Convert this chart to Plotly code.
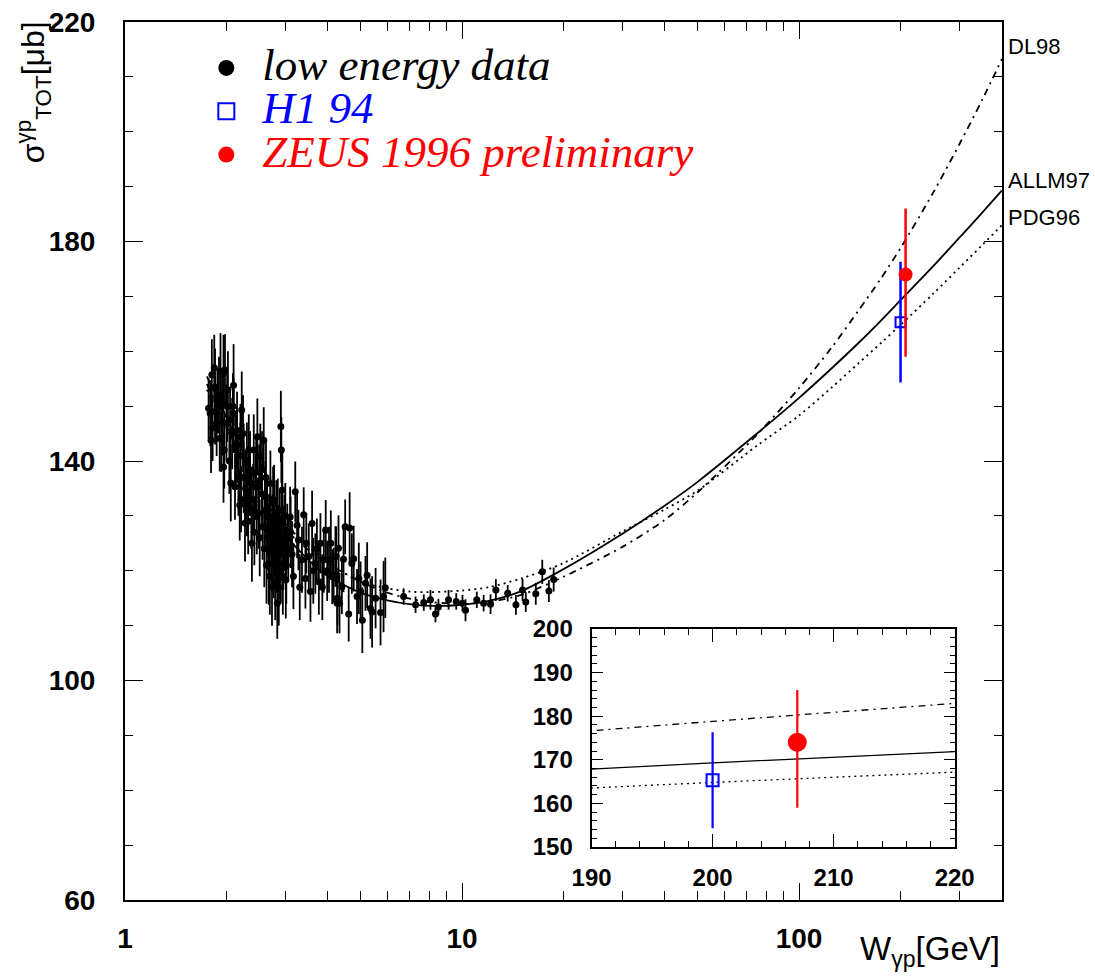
import math
import plotly.graph_objects as go

# ---------------- data ----------------
# low energy photoproduction data: W [GeV], sigma [mub], error [mub]
w_low = [1.77, 1.79, 1.81, 1.80, 1.85, 1.87, 1.92, 1.94, 1.96, 1.98, 1.91, 1.96, 2.00, 2.05,
         2.10, 2.12, 2.10, 2.15, 2.20, 2.19, 2.22, 2.25, 2.27, 2.30, 2.33, 2.35, 2.38, 2.41,
         2.44, 2.47, 2.49, 2.52, 2.55, 2.58, 2.61, 2.64, 2.67, 2.70, 2.74, 2.77, 2.80, 2.83,
         2.84, 2.87, 2.90, 2.91, 2.93, 2.97, 3.00, 3.03, 3.09, 3.20, 3.24, 3.27, 3.35, 3.39,
         3.43, 3.51, 3.55, 3.59, 3.67, 3.76, 3.80, 3.89, 3.94, 4.03, 4.12, 4.21, 4.26,
         2.55, 2.60, 2.62, 2.68, 2.70, 2.72, 2.75, 2.78, 2.81, 2.82, 2.85, 2.88, 2.90, 2.92,
         2.95, 2.97, 3.01, 3.05, 3.10, 2.45, 2.50, 2.40, 2.35, 2.30, 2.25, 2.20, 2.15, 2.08,
         2.04, 2.01, 1.95, 1.90, 1.85,
         1.82, 1.84, 1.88, 1.93, 1.97, 2.02, 2.06, 2.09, 2.13, 2.17, 2.21, 2.24, 2.28, 2.32,
         2.37, 2.42, 2.46, 2.51, 2.56, 2.59, 2.63, 2.66, 2.69, 2.73, 2.76, 2.79, 2.86, 2.89,
         2.94, 2.99, 3.13, 3.16, 3.30, 3.45, 3.62, 3.71, 3.85, 3.98, 4.08,
         4.16, 4.23, 4.27, 4.30, 4.33, 4.40, 4.45, 4.50, 4.61, 4.64, 4.71, 4.77, 4.88, 4.94,
         5.00, 5.06, 5.17, 5.23, 5.35, 5.41, 5.54, 5.73, 5.85, 5.92,
         6.71, 7.28, 7.70, 8.06, 8.34, 8.51, 9.12, 9.61, 10.03, 10.24, 11.06, 11.59, 12.15,
         12.60, 13.66, 14.45, 15.12, 15.46, 16.55, 17.30, 18.10, 18.70]
s_low = [149.6, 148.7, 155.7, 143.8, 153.5, 146.9, 156.3, 150.5, 156.0, 156.6, 144.1, 138.9, 146.9, 147.5,
         153.8, 135.3, 148.7, 145.6, 144.4, 132.0, 149.3, 140.8, 128.7, 132.3, 142.0, 138.4, 125.0, 142.0,
         135.3, 144.4, 130.5, 140.8, 138.4, 143.8, 133.5, 129.8, 121.3, 135.9, 127.4, 132.3, 124.4, 114.1,
         129.8, 121.3, 146.3, 142.0, 134.7, 127.4, 118.3, 126.2, 129.8, 134.4, 128.3, 125.6, 122.0, 130.2,
         118.6, 122.6, 116.2, 128.6, 121.3, 118.0, 125.0, 122.0, 127.4, 122.0, 118.9, 122.6, 114.1,
         134.0, 131.0, 137.0, 128.0, 130.0, 124.0, 133.0, 126.0, 130.0, 122.0, 125.0, 128.0, 120.0, 131.0,
         123.0, 126.0, 121.0, 124.0, 127.0, 138.0, 136.0, 133.0, 136.0, 140.0, 137.0, 141.0, 143.0, 145.0,
         140.0, 150.0, 147.0, 152.0, 149.0,
         146.0, 157.0, 151.0, 144.0, 142.0, 153.0, 136.0, 150.0, 142.0, 137.0, 133.0, 145.0, 135.0, 129.0,
         131.0, 127.0, 130.0, 126.0, 128.0, 124.0, 121.0, 126.0, 119.0, 117.0, 121.0, 118.0, 117.0, 124.0,
         119.0, 130.0, 123.0, 119.0, 117.0, 125.0, 120.0, 124.0, 117.0, 120.0, 125.0,
         119.2, 122.6, 115.0, 124.1, 114.1, 117.1, 122.1, 128.0, 112.1, 127.8, 121.3, 122.2, 115.3, 118.6,
         116.2, 111.0, 117.7, 119.2, 113.1, 112.5, 115.0, 112.4, 115.3, 116.9,
         115.3, 113.8, 114.2, 114.7, 112.1, 113.4, 114.7, 114.4, 114.1, 112.8, 114.7, 114.1, 113.9,
         116.5, 115.9, 113.8, 116.5, 114.3, 115.8, 119.8, 116.3, 118.4]
e_low = [5.5, 6.0, 6.5, 6.0, 7.0, 6.0, 7.0, 6.5, 7.0, 6.5, 6.0, 6.5, 7.0, 6.0,
         7.5, 6.0, 6.5, 7.0, 6.0, 6.5, 7.0, 6.0, 7.0, 6.0, 6.5, 7.0, 7.0, 6.5,
         6.0, 7.0, 6.5, 6.0, 7.0, 6.0, 6.5, 7.0, 7.5, 6.0, 6.5, 7.0, 6.0, 6.5,
         7.0, 6.5, 6.5, 6.0, 7.0, 6.5, 7.0, 6.0, 5.5, 5.5, 6.0, 5.5, 6.0, 5.0,
         5.5, 6.0, 5.5, 6.0, 5.5, 6.0, 5.5, 6.0, 5.5, 6.0, 5.0, 5.5, 5.5,
         6.0, 7.0, 6.5, 6.0, 7.0, 6.5, 6.0, 7.0, 6.5, 6.0, 7.0, 6.5, 6.0, 7.0,
         6.5, 6.0, 7.0, 6.0, 6.5, 6.0, 7.0, 6.5, 6.0, 7.0, 6.5, 6.0, 7.0, 6.5,
         6.0, 6.5, 6.0, 7.0, 6.0,
         6.0, 6.0, 6.0, 6.0, 7.0, 7.0, 7.0, 6.0, 7.0, 7.0, 6.0, 7.0, 7.0, 6.0,
         7.0, 6.0, 7.0, 7.0, 6.0, 7.0, 7.0, 6.0, 7.0, 7.0, 6.0, 7.0, 7.0, 6.0,
         7.0, 6.0, 6.0, 6.0, 6.0, 5.5, 6.0, 5.5, 6.0, 5.5, 6.0,
         5.0, 5.5, 5.0, 6.0, 5.5, 5.0, 6.0, 5.0, 5.0, 6.5, 5.5, 6.0, 5.0, 6.5,
         5.5, 6.0, 5.0, 6.0, 5.5, 6.5, 5.5, 6.0, 6.5, 5.5,
         1.5, 1.5, 1.5, 1.8, 1.5, 1.5, 1.8, 1.5, 1.5, 2.0, 1.5, 1.5, 1.8,
         2.0, 1.5, 1.8, 2.0, 1.8, 2.0, 2.2, 2.0, 2.2]

# HERA points
w_h1 = [200.0]
s_h1 = [165.3]
e_h1_up = [11.0]
e_h1_dn = [11.0]
w_zeus = [207.0]
s_zeus = [174.0]
e_zeus_up = [12.0]
e_zeus_dn = [15.0]

# model curves
w_model = [1.75, 2, 2.5, 3, 3.5, 4, 5, 6, 7, 8, 10, 12, 15, 20, 30, 40, 50, 75, 100,
           125, 150, 175, 200, 250, 300, 350, 400]
allm97 = [155.4, 148.0, 135.5, 126.5, 122.0, 119.0, 116.0, 114.6, 113.9, 113.6, 113.8, 114.5,
          116.3, 120.3, 126.8, 131.9, 136.2, 145.0, 151.5,
          156.9, 161.5, 165.6, 169.3, 175.5, 180.8, 185.3, 189.3]
dl98 = [154.0, 146.5, 134.5, 127.5, 123.8, 121.3, 118.0, 116.0, 114.9, 114.3, 114.0, 114.3,
        115.6, 118.9, 124.4, 129.3, 134.3, 144.8, 153.3,
        160.7, 167.4, 173.3, 178.8, 188.9, 197.9, 205.9, 213.3]
pdg96 = [153.0, 146.0, 135.5, 128.5, 124.5, 121.5, 118.0, 116.8, 116.2, 116.1, 116.4, 117.0,
         118.6, 121.4, 127.2, 131.2, 134.6, 142.8, 148.3,
         153.4, 157.8, 161.5, 164.8, 170.5, 175.3, 179.4, 183.0]

curve_names = ["DL98", "ALLM97", "PDG96"]
curve_label_y = [215.5, 191.2, 184.3]

x_ticks_main = [1, 10, 100]
x_minor_main = [2, 3, 4, 5, 6, 7, 8, 9, 20, 30, 40, 50, 60, 70, 80, 90, 200, 300]
y_ticks_main = [60, 100, 140, 180, 220]
x_ticks_inset = [190, 200, 210, 220]
y_ticks_inset = [150, 160, 170, 180, 190, 200]

# ---------------- figure ----------------
fig = go.Figure()

DD = "7px,5px,2px,5px"
DOT = "2px,4px"
SPL = dict(shape="spline", smoothing=0.8)

# main curves
fig.add_trace(go.Scatter(x=w_model, y=dl98, mode="lines",
                         line=dict(color="black", width=1.8, dash=DD, **SPL),
                         showlegend=False, xaxis="x", yaxis="y"))
fig.add_trace(go.Scatter(x=w_model, y=pdg96, mode="lines",
                         line=dict(color="black", width=1.8, dash=DOT, **SPL),
                         showlegend=False, xaxis="x", yaxis="y"))
fig.add_trace(go.Scatter(x=w_model, y=allm97, mode="lines",
                         line=dict(color="black", width=1.8, **SPL),
                         showlegend=False, xaxis="x", yaxis="y"))

# low energy data
fig.add_trace(go.Scatter(x=w_low, y=s_low, mode="markers",
                         marker=dict(color="black", size=7),
                         error_y=dict(type="data", array=e_low, color="black", thickness=1.8, width=0),
                         showlegend=False, xaxis="x", yaxis="y"))
# H1
fig.add_trace(go.Scatter(x=w_h1, y=s_h1, mode="markers",
                         marker=dict(symbol="square-open", color="blue", size=10, line=dict(width=2)),
                         error_y=dict(type="data", array=e_h1_up, arrayminus=e_h1_dn, color="blue",
                                      thickness=2.5, width=0),
                         showlegend=False, xaxis="x", yaxis="y"))
# ZEUS
fig.add_trace(go.Scatter(x=w_zeus, y=s_zeus, mode="markers",
                         marker=dict(color="red", size=14),
                         error_y=dict(type="data", array=e_zeus_up, arrayminus=e_zeus_dn, color="red",
                                      thickness=2.5, width=0),
                         showlegend=False, xaxis="x", yaxis="y"))

# inset
fig.add_trace(go.Scatter(x=w_model, y=dl98, mode="lines",
                         line=dict(color="black", width=1.3, dash=DD, **SPL),
                         showlegend=False, xaxis="x2", yaxis="y2"))
fig.add_trace(go.Scatter(x=w_model, y=pdg96, mode="lines",
                         line=dict(color="black", width=1.3, dash=DOT, **SPL),
                         showlegend=False, xaxis="x2", yaxis="y2"))
fig.add_trace(go.Scatter(x=w_model, y=allm97, mode="lines",
                         line=dict(color="black", width=1.3, **SPL),
                         showlegend=False, xaxis="x2", yaxis="y2"))
fig.add_trace(go.Scatter(x=w_h1, y=s_h1, mode="markers",
                         marker=dict(symbol="square-open", color="blue", size=12, line=dict(width=2)),
                         error_y=dict(type="data", array=e_h1_up, arrayminus=e_h1_dn, color="blue",
                                      thickness=2.2, width=0),
                         showlegend=False, xaxis="x2", yaxis="y2"))
fig.add_trace(go.Scatter(x=w_zeus, y=s_zeus, mode="markers",
                         marker=dict(color="red", size=19),
                         error_y=dict(type="data", array=e_zeus_up, arrayminus=e_zeus_dn, color="red",
                                      thickness=2.2, width=0),
                         showlegend=False, xaxis="x2", yaxis="y2"))

# legend entries
LEG = "font-size:45px"
fig.add_trace(go.Scatter(x=[None], y=[None], mode="markers", marker=dict(color="black", size=16),
                         name=f"<span style='{LEG};color:black'>low energy data</span>"))
fig.add_trace(go.Scatter(x=[None], y=[None], mode="markers",
                         marker=dict(symbol="square-open", color="blue", size=16, line=dict(width=2)),
                         name=f"<span style='{LEG};color:blue'>H1 94</span>"))
fig.add_trace(go.Scatter(x=[None], y=[None], mode="markers", marker=dict(color="red", size=16),
                         name=f"<span style='{LEG};color:red'>ZEUS 1996 preliminary</span>"))

FONT = "Liberation Sans, Arial, sans-serif"
tickfont_main = dict(family=FONT, size=28, color="black", weight="bold")
tickfont_inset = dict(family=FONT, size=24, color="black", weight="bold")

fig.update_layout(
    width=1095, height=976,
    margin=dict(l=125, r=93, t=22, b=76, autoexpand=False),
    paper_bgcolor="white", plot_bgcolor="white",
    showlegend=True,
    legend=dict(x=0.0745, y=0.978, xanchor="left", yanchor="top",
                font=dict(family="Liberation Serif, Times New Roman, serif", size=31, style="italic"),
                bgcolor="rgba(0,0,0,0)", itemwidth=62, tracegroupgap=0),
    xaxis=dict(type="log", range=[0, math.log10(400)], domain=[0, 1], anchor="y", automargin=False,
               tickmode="array", tickvals=x_ticks_main, ticktext=[str(v) for v in x_ticks_main],
               ticks="inside", ticklen=17, tickwidth=1.3, tickcolor="black",
               minor=dict(tickmode="array", tickvals=x_minor_main, ticks="inside", ticklen=9,
                          tickwidth=1.3, tickcolor="black"),
               showline=True, linecolor="black", linewidth=2, mirror="ticks",
               showgrid=False, zeroline=False, tickfont=tickfont_main, ticklabelstandoff=12),
    yaxis=dict(range=[60, 220], domain=[0, 1], anchor="x", automargin=False,
               tickmode="array", tickvals=y_ticks_main, ticks="inside", ticklen=18, tickwidth=1.3,
               tickcolor="black",
               minor=dict(dtick=10, ticks="inside", ticklen=8, tickwidth=1.3, tickcolor="black"),
               showline=True, linecolor="black", linewidth=2, mirror="ticks",
               showgrid=False, zeroline=False, tickfont=tickfont_main, ticklabelstandoff=22),
    xaxis2=dict(range=[190, 220], domain=[0.532, 0.946], anchor="y2", automargin=False,
                tickmode="array", tickvals=x_ticks_inset, ticks="inside", ticklen=13, tickwidth=1.3,
                tickcolor="black",
                minor=dict(dtick=2, ticks="inside", ticklen=6, tickwidth=1.3, tickcolor="black"),
                showline=True, linecolor="black", linewidth=2, mirror="ticks",
                showgrid=False, zeroline=False, tickfont=tickfont_inset, ticklabelstandoff=8),
    yaxis2=dict(range=[150, 200], domain=[0.0604, 0.3087], anchor="x2", automargin=False,
                tickmode="array", tickvals=y_ticks_inset, ticks="inside", ticklen=11, tickwidth=1.3,
                tickcolor="black",
                minor=dict(dtick=2, ticks="inside", ticklen=5, tickwidth=1.3, tickcolor="black"),
                showline=True, linecolor="black", linewidth=2, mirror="ticks",
                showgrid=False, zeroline=False, tickfont=tickfont_inset, ticklabelstandoff=12),
)

# curve labels at right edge
for name, yv in zip(curve_names, curve_label_y):
    fig.add_annotation(x=1.005, xref="paper", y=yv, yref="y", text=name, showarrow=False,
                       xanchor="left", yanchor="middle",
                       font=dict(family=FONT, size=22, color="black"))

# axis titles
fig.add_annotation(x=1.0, xref="paper", y=-0.058, yref="paper", text="W<sub>γp</sub>[GeV]",
                   showarrow=False, xanchor="right", yanchor="middle",
                   font=dict(family=FONT, size=33, color="black"))
fig.add_annotation(x=-0.105, xref="paper", y=0.920, yref="paper",
                   text="σ<sup>γp</sup><sub>TOT</sub>[μb]", textangle=-90,
                   showarrow=False, xanchor="center", yanchor="middle",
                   font=dict(family=FONT, size=32, color="black"))

fig.write_html("out.html", config={"displayModeBar": False},
               post_script="document.body.style.margin='0px';")
